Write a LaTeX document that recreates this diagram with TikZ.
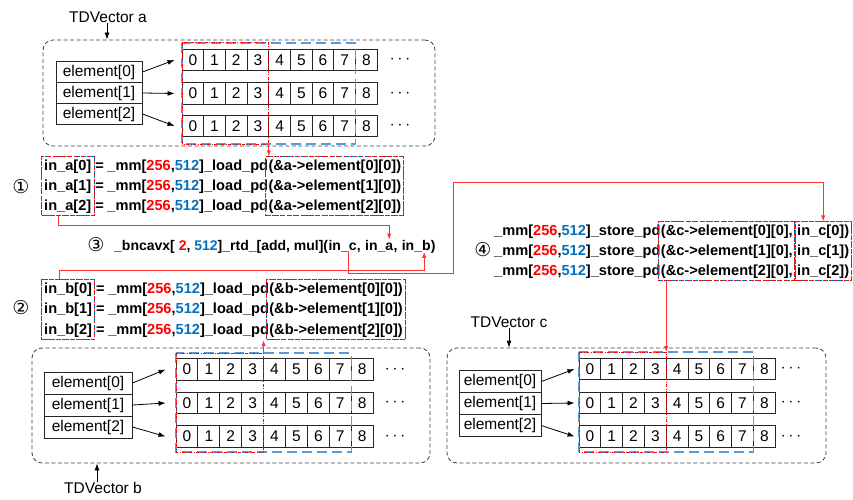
\documentclass[tikz,border=0pt]{standalone}
\usepackage{fontspec}
\setmainfont{Liberation Sans}
\newfontfamily\circfont{DejaVu Sans}
\usetikzlibrary{arrows.meta,fit,calc}
\definecolor{cred}{RGB}{255,0,0}
\definecolor{cblue}{RGB}{0,112,192}
\definecolor{lblue}{RGB}{91,155,213}
\definecolor{lnred}{RGB}{255,50,50}
\begin{document}
\begin{tikzpicture}[x=1pt,y=-1pt,
  lbl/.style={font=\fontsize{15.5}{18}\selectfont, inner sep=0pt},
  elem/.style={draw=black!85, line width=0.9pt, font=\fontsize{15.5}{18}\selectfont, inner sep=0pt, minimum height=21pt},
  cell/.style={draw=black!85, line width=0.9pt, font=\fontsize{15.5}{18}\selectfont, inner sep=0pt, minimum height=21.5pt},
  code/.style={font=\fontsize{14.6}{18}\selectfont\bfseries, inner sep=0pt, anchor=base west},
  codes/.style={font=\fontsize{14}{18}\selectfont\bfseries, inner sep=0pt, anchor=base west},
  circ/.style={font=\circfont\fontsize{19}{20}\selectfont, inner sep=0pt},
  dotsn/.style={font=\fontsize{18}{18}\selectfont, inner sep=0pt},
  grpbox/.style={draw=black!75, line width=0.8pt, dash pattern=on 4pt off 2.5pt, rounded corners=10pt, inner sep=0pt},
  bluebox/.style={draw=lblue, line width=1.2pt, dash pattern=on 10pt off 5pt},
  redbox/.style={draw=cred, line width=1pt, dash pattern=on 3pt off 1.5pt on 1pt off 1.5pt},
  cbluebox/.style={draw=cblue, line width=0.9pt, dash pattern=on 5pt off 2pt, inner sep=2.5pt},
  credbox/.style={draw=cred, line width=0.9pt, dash pattern=on 2pt off 1.5pt on 0.8pt off 1.5pt, inner sep=2.5pt},
  arr/.style={-{Latex[length=7pt,width=5pt]}, line width=0.8pt, draw=black},
  redarr/.style={-{Latex[length=6pt,width=4.5pt]}, line width=1pt, draw=lnred},
]
\useasboundingbox (0,0) rectangle (853,500);

% ---------------- TDVector a ----------------
\node[grpbox, minimum width=392pt, minimum height=106pt] (grpA) at (239,93) {};
\node[lbl] (tdA) at (108,17) {TDVector a};
\draw[arr] ([xshift=-1pt]tdA.south) -- ([xshift=-1pt]tdA.south |- grpA.north);
\node[elem, minimum width=86pt] (ea0) at (99,72) {element[0]};
\node[elem, minimum width=86pt] (ea1) at (99,93) {element[1]};
\node[elem, minimum width=86pt] (ea2) at (99,114) {element[2]};
\foreach \r/\yy in {0/60,1/93.5,2/126}{
  \foreach \i in {0,...,8}{
    \node[cell, minimum width=21.7pt] (a\r-\i) at ({182+21.7*(\i+0.5)},\yy) {\i};
  }
  \node[dotsn] (adots\r) at (400,\yy) {$\cdots$};
}
\draw[arr] (ea0.east) -- ([xshift=-7pt]a0-0.west);
\draw[arr] (ea1.east) -- ([xshift=-7pt]a1-0.west);
\draw[arr] (ea2.east) -- ([xshift=-7pt]a2-0.west);
\draw[bluebox] (182,43) rectangle (355.6,144);
\draw[redbox] (182,43) rectangle (268.8,144);
\coordinate (redAbr) at (268.8,144);

% ---------------- code 1 ----------------
\node[circ] (c1) at (21,187) {①};
\foreach \k/\yy in {0/170,1/190,2/210}{
  \node[code] (la\k) at (44,\yy) {in\_a[\k]};
  \node[code] (ma\k) at (la\k.base east) {\kern0.25em=\kern0.25em\_mm[\textcolor{cred}{256},\textcolor{cblue}{512}]\_load\_pd};
  \node[code] (ra\k) at (ma\k.base east) {(\&a->element[\k][0])};
}
\node[cbluebox, fit=(la0)(la2)] (boxInA) {};
\node[credbox, fit=(la0)(la2)] (boxInAr) {};
\node[cbluebox, fit=(ra0)(ra2)] (boxRA) {};
\node[credbox, fit=(ra0)(ra2)] (boxRAr) {};
\draw[redarr] (redAbr) -- (redAbr |- boxRA.north);

% ---------------- code 3 ----------------
\node[circ] (c3) at (96,245) {③};
\node[codes] (p3a) at (114,250) {\_bncavx[ \textcolor{cred}{2}, \textcolor{cblue}{512}]\_rtd\_[add, mul](};
\node[codes] (inC3) at (p3a.base east) {in\_c};
\node[codes] (p3b) at (inC3.base east) {,\kern0.28em};
\node[codes] (inA3) at (p3b.base east) {in\_a};
\node[codes] (p3c) at (inA3.base east) {,\kern0.28em};
\node[codes] (inB3) at (p3c.base east) {in\_b};
\node[codes] (p3d) at (inB3.base east) {)};

% ---------------- code 2 ----------------
\node[circ] (c2) at (21,308) {②};
\foreach \k/\yy in {0/293,1/313.5,2/334}{
  \node[code] (lb\k) at (44,\yy) {in\_b[\k]};
  \node[code] (mb\k) at (lb\k.base east) {\kern0.25em=\kern0.25em\_mm[\textcolor{cred}{256},\textcolor{cblue}{512}]\_load\_pd};
  \node[code] (rb\k) at (mb\k.base east) {(\&b->element[\k][0])};
}
\node[cbluebox, fit=(lb0)(lb2)] (boxInB) {};
\node[credbox, fit=(lb0)(lb2)] (boxInBr) {};
\node[cbluebox, fit=(rb0)(rb2)] (boxRB) {};
\node[credbox, fit=(rb0)(rb2)] (boxRBr) {};

% ---------------- code 4 ----------------
\node[circ] (c4) at (483,250) {④};
\foreach \k/\yy in {0/235,1/255,2/275}{
  \node[code] (sc\k) at (494,\yy) {\_mm[\textcolor{cred}{256},\textcolor{cblue}{512}]\_store\_pd};
  \node[code] (rc\k) at (sc\k.base east) {(\&c->element[\k][0],};
  \node[code] (ic\k) at ([xshift=4pt]rc\k.base east) {in\_c[\k])};
}
\node[cbluebox, fit=(rc0)(rc2)] (boxRC) {};
\node[credbox, fit=(rc0)(rc2)] (boxRCr) {};
\node[cbluebox, fit=(ic0)(ic2)] (boxInC) {};
\node[credbox, fit=(ic0)(ic2)] (boxInCr) {};

% ---------------- red connectors ----------------
\draw[redarr] ([xshift=-9pt]boxInA.south) -- ++(0,9) -| ([xshift=10pt]inA3.north);
\draw[redarr] ([xshift=-9pt]boxInB.north) -- ++(0,-9) -| ([xshift=8pt]inB3.south);
\coordinate (turnC1) at (453,273);
\coordinate (turnC2) at (453,182);
\draw[redarr] ([xshift=6pt]inC3.south) |- (turnC1) -- (turnC2) -| (boxInC.north);

% ---------------- TDVector b ----------------
\node[grpbox, minimum width=398pt, minimum height=115pt] (grpB) at (231,405.5) {};
\node[lbl] (tdB) at (103,488) {TDVector b};
\draw[arr] ([xshift=-6pt]tdB.north) -- ([xshift=-6pt]tdB.north |- grpB.south);
\node[elem, minimum width=88pt, minimum height=22pt] (eb0) at (88,383) {element[0]};
\node[elem, minimum width=88pt, minimum height=22pt] (eb1) at (88,405) {element[1]};
\node[elem, minimum width=88pt, minimum height=22pt] (eb2) at (88,427) {element[2]};
\foreach \r/\yy in {0/369.5,1/403,2/436.5}{
  \foreach \i in {0,...,8}{
    \node[cell, minimum width=21.9pt] (b\r-\i) at ({176+21.9*(\i+0.5)},\yy) {\i};
  }
  \node[dotsn] (bdots\r) at (395,\yy) {$\cdots$};
}
\draw[arr] (eb0.east) -- ([xshift=-10pt]b0-0.west);
\draw[arr] (eb1.east) -- ([xshift=-10pt]b1-0.west);
\draw[arr] (eb2.east) -- ([xshift=-10pt]b2-0.west);
\draw[bluebox] (176,353) rectangle (351.2,452);
\draw[redbox] (176,353) rectangle (263.6,452);
\coordinate (redBtr) at (263.6,353);
\draw[redarr] (redBtr) -- (redBtr |- boxRB.south);

% ---------------- TDVector c ----------------
\node[grpbox, minimum width=379pt, minimum height=115pt] (grpC) at (636.5,405.5) {};
\node[lbl] (tdC) at (509,322) {TDVector c};
\draw[arr] (tdC.south) -- (tdC.south |- grpC.north);
\node[elem, minimum width=82pt, minimum height=22pt] (ec0) at (500,381.5) {element[0]};
\node[elem, minimum width=82pt, minimum height=22pt] (ec1) at (500,403.5) {element[1]};
\node[elem, minimum width=82pt, minimum height=22pt] (ec2) at (500,425.5) {element[2]};
\foreach \r/\yy in {0/369,1/403,2/436.5}{
  \foreach \i in {0,...,8}{
    \node[cell, minimum width=21.8pt] (c\r-\i) at ({579+21.8*(\i+0.5)},\yy) {\i};
  }
  \node[dotsn] (cdots\r) at (791,\yy) {$\cdots$};
}
\draw[arr] (ec0.east) -- ([xshift=-4pt]c0-0.west);
\draw[arr] (ec1.east) -- ([xshift=-4pt]c1-0.west);
\draw[arr] (ec2.east) -- ([xshift=-4pt]c2-0.west);
\draw[bluebox] (579,352) rectangle (753.4,452);
\draw[redbox] (579,352) rectangle (666.2,452);
\coordinate (redCtr) at (666.2,352);
\draw[redarr] (redCtr |- boxRC.south) -- (redCtr);
\end{tikzpicture}
\end{document}
